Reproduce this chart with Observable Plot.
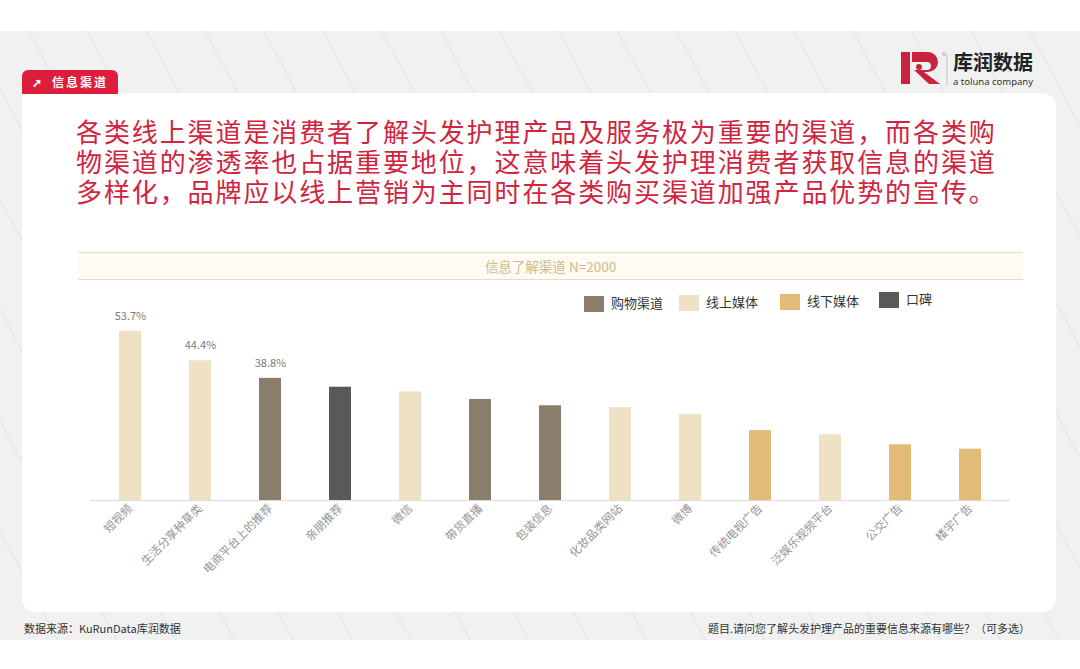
<!DOCTYPE html>
<html><head><meta charset="utf-8">
<script src="https://cdn.jsdelivr.net/npm/d3@7"></script>
<script src="https://cdn.jsdelivr.net/npm/@observablehq/plot@0.6"></script>
<style>
html,body{margin:0;padding:0;background:#fff;width:1080px;height:669px;overflow:hidden;font-family:"Noto Sans CJK SC","Noto Sans",sans-serif;}
#page{position:relative;width:1080px;height:669px;}
#band{position:absolute;left:0;top:31px;width:1080px;height:609px;background-color:#f1f1f1;
 background-image:repeating-linear-gradient(62deg, rgba(255,255,255,0) 0px, rgba(255,255,255,0) 50px, rgba(225,225,225,0.9) 51px, rgba(255,255,255,0) 52px);}
#card{position:absolute;left:22px;top:93px;width:1034px;height:519px;background:#fff;border-radius:0 14px 14px 14px;}
#tab{position:absolute;left:22px;top:70px;width:96px;height:24px;background:#dc1e3c;border-radius:6px 6px 0 0;color:#fff;font-size:12px;font-weight:bold;line-height:24px;letter-spacing:2px;}
#tab span.arr{position:absolute;left:10px;top:0;font-size:12px;}
#tab span.t{position:absolute;left:30px;top:0;}
#logo{position:absolute;left:900px;top:48px;}
#headline{position:absolute;left:76px;top:116px;color:#d0253f;font-size:26px;line-height:30px;letter-spacing:1.9px;white-space:pre;}
#ctitle{position:absolute;left:78px;top:252px;width:945px;height:26px;background:#fdfbf3;border-top:1px solid #e6dec4;border-bottom:1px solid #e6dec4;text-align:center;line-height:26px;font-size:13.5px;color:#d0bc8a;}
#legend{position:absolute;left:0;top:0;}
.li{position:absolute;font-size:13px;color:#333;white-space:nowrap;}
.sw{display:inline-block;width:20px;height:16px;vertical-align:middle;margin-right:7px;}
#chart{position:absolute;left:0;top:300px;}
#src{position:absolute;left:24px;top:620px;font-size:11px;color:#333;}
#q{position:absolute;right:50px;top:620px;font-size:11px;color:#333;}
</style></head>
<body><div id="page">
<div id="band"></div>
<div id="card"></div>
<div id="tab"><span class="arr">➚</span><span class="t">信息渠道</span></div>
<div id="logo">
 <svg width="160" height="44" viewBox="0 0 160 44">
  <rect x="1" y="4" width="9" height="32" fill="#c9243f"/>
  <path d="M12 4 H28 a10 10 0 0 1 0 20 H24 L40 36 H29 L14 22 H27 a4 4 0 0 0 0 -8 H12 Z" fill="#c9243f"/>
  <circle cx="19" cy="19" r="3" fill="#c9243f"/>
  <circle cx="44" cy="6" r="1.5" fill="none" stroke="#999" stroke-width="0.6"/>
  <line x1="47" y1="6" x2="47" y2="38" stroke="#bbb" stroke-width="0.8"/>
  <text x="53" y="22" font-size="20" font-weight="bold" fill="#222" font-family="Noto Sans CJK SC">库润数据</text>
  <text x="53" y="37" font-size="9.5" fill="#333" font-family="Noto Sans, sans-serif">a toluna company</text>
 </svg>
</div>
<div id="headline"></div>
<div id="ctitle"></div>
<div id="legend"></div>
<div id="chart"></div>
<div id="src">数据来源：KuRunData库润数据</div>
<div id="q">题目.请问您了解头发护理产品的重要信息来源有哪些？（可多选）</div>
</div>
<script>
// ---- data ----
const headlineLines = [
  "各类线上渠道是消费者了解头发护理产品及服务极为重要的渠道，而各类购",
  "物渠道的渗透率也占据重要地位，这意味着头发护理消费者获取信息的渠道",
  "多样化，品牌应以线上营销为主同时在各类购买渠道加强产品优势的宣传。"
];
const chartTitle = "信息了解渠道 N=2000";
const channels = ["短视频","生活分享种草类","电商平台上的推荐","亲朋推荐","微信","带货直播","包装信息","化妆品类网站","微博","传统电视广告","泛娱乐视频平台","公交广告","楼宇广告"];
const values   = [53.7, 44.4, 38.8, 36.0, 34.5, 32.1, 30.1, 29.5, 27.3, 22.2, 20.9, 17.7, 16.3];
const types    = ["线上媒体","线上媒体","购物渠道","口碑","线上媒体","购物渠道","购物渠道","线上媒体","线上媒体","线下媒体","线上媒体","线下媒体","线下媒体"];
const labeled  = [true, true, true, false, false, false, false, false, false, false, false, false, false];
const legendTypes  = ["购物渠道","线上媒体","线下媒体","口碑"];
const legendColors = ["#8b7d6b","#efe1c4","#e3bb79","#595959"];

document.getElementById("headline").textContent = headlineLines.join("\n");
document.getElementById("ctitle").textContent = chartTitle;

// legend
const legendPos = [[584,293],[679,292],[780,291],[879,289]];
const lg = document.getElementById("legend");
legendTypes.forEach((t,i)=>{
  const d = document.createElement("div");
  d.className="li";
  d.style.left = legendPos[i][0]+"px";
  d.style.top = legendPos[i][1]+"px";
  d.innerHTML = `<span class="sw" style="background:${legendColors[i]}"></span>${t}`;
  lg.appendChild(d);
});

const data = channels.map((c,i)=>({channel:c, value:values[i], type:types[i], label:labeled[i]}));

const chart = Plot.plot({
  width: 1080,
  height: 300,
  marginLeft: 90,
  marginRight: 70,
  marginTop: 31,
  marginBottom: 100,
  style: {fontFamily: '"Noto Sans CJK SC", sans-serif', background: "transparent"},
  x: {domain: channels, paddingInner: 0.69, paddingOuter: 0.345, label: null},
  y: {domain: [0, 53.7], axis: null},
  color: {domain: legendTypes, range: legendColors},
  marks: [
    Plot.barY(data, {x: "channel", y: "value", fill: "type"}),
    Plot.ruleY([0], {stroke: "#dcdcdc", strokeWidth: 1}),
    Plot.text(data.filter(d=>d.label), {x: "channel", y: "value", text: d => d.value.toFixed(1) + "%", dy: -15, fill: "#7a7a7a", fontSize: 11}),
    Plot.axisX({tickSize: 0, tickRotate: -45, tickPadding: 6, fontSize: 11.5, fill: "#959595", label: null})
  ]
});
document.getElementById("chart").appendChild(chart);
</script>
</body></html>
